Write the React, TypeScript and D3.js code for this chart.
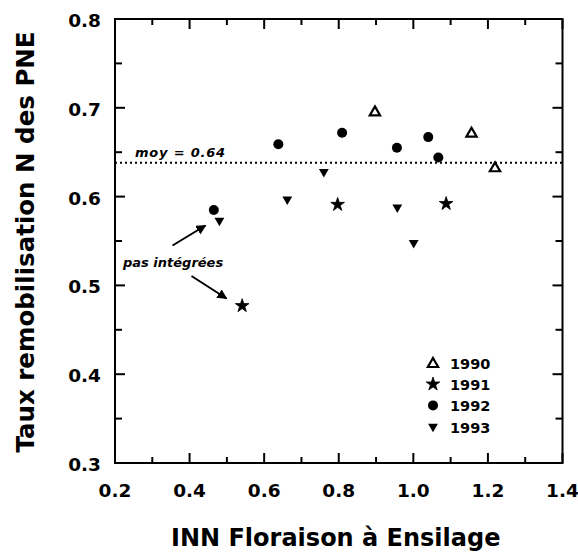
import React from "react";
import * as d3 from "d3";

// values (INN, taux de remobilisation)
const x1990 = [0.897, 1.156, 1.219];
const y1990 = [0.696, 0.672, 0.633];
const x1991 = [0.541, 0.797, 1.088];
const y1991 = [0.477, 0.591, 0.592];
const x1992 = [0.465, 0.638, 0.809, 0.956, 1.04, 1.067];
const y1992 = [0.585, 0.659, 0.672, 0.655, 0.667, 0.644];
const x1993 = [0.48, 0.662, 0.76, 0.957, 1.001];
const y1993 = [0.573, 0.597, 0.628, 0.588, 0.548];

const years = ["1990", "1991", "1992", "1993"];
const xTickValues = [0.2, 0.4, 0.6, 0.8, 1.0, 1.2, 1.4];
const yTickValues = [0.3, 0.4, 0.5, 0.6, 0.7, 0.8];
const meanValue = 0.638;
const meanLabel = "moy = 0.64";
const noteLabel = "pas intégrées";

const FONT = "'DejaVu Sans', Verdana, sans-serif";

const App: React.FC = () => {
  const width = 578;
  const height = 553;
  const margin = { top: 19, right: 15.5, bottom: 90, left: 115 };

  const x = d3
    .scaleLinear()
    .domain([0.2, 1.4])
    .range([margin.left, width - margin.right]);
  const y = d3
    .scaleLinear()
    .domain([0.3, 0.8])
    .range([height - margin.bottom, margin.top]);

  const x0 = x.range()[0];
  const x1 = x.range()[1];
  const y0 = y.range()[0];
  const y1 = y.range()[1];

  const xMinor = [0.3, 0.5, 0.7, 0.9, 1.1, 1.3];
  const yMinor = [0.35, 0.45, 0.55, 0.65, 0.75];

  const tri = d3.symbol(d3.symbolTriangle, 46)()!;
  const triDown = d3.symbol(d3.symbolTriangle, 42)()!;
  const star = d3.symbol(d3.symbolStar, 58)()!;

  const series = [
    { xs: x1990, ys: y1990, kind: "tri" },
    { xs: x1991, ys: y1991, kind: "star" },
    { xs: x1992, ys: y1992, kind: "circle" },
    { xs: x1993, ys: y1993, kind: "down" },
  ];

  const marker = (kind: string, cx: number, cy: number, key: string) => {
    if (kind === "circle") return <circle key={key} cx={cx} cy={cy} r={5} fill="#000" />;
    if (kind === "star")
      return (
        <path
          key={key}
          d={star}
          transform={`translate(${cx},${cy})`}
          fill="#000"
          stroke="#000"
          strokeWidth={0.8}
          strokeLinejoin="round"
        />
      );
    if (kind === "down")
      return (
        <path key={key} d={triDown} transform={`translate(${cx},${cy}) rotate(180)`} fill="#000" />
      );
    return (
      <path
        key={key}
        d={tri}
        transform={`translate(${cx},${cy + 1})`}
        fill="#fff"
        stroke="#000"
        strokeWidth={2.2}
      />
    );
  };

  const tick = "#000";

  return (
    <svg
      width={width}
      height={height}
      style={{ position: "absolute", left: 0, top: 0, background: "#fff" }}
    >
      <defs>
        <marker
          id="head"
          viewBox="0 0 10 10"
          refX={9}
          refY={5}
          markerWidth={5}
          markerHeight={5}
          orient="auto"
        >
          <path d="M0,0 L10,5 L0,10 z" fill="#000" />
        </marker>
      </defs>

      {/* frame */}
      <rect x={x0} y={y1} width={x1 - x0} height={y0 - y1} fill="none" stroke="#000" strokeWidth={2} />

      {/* ticks, inward on all four sides */}
      <g stroke={tick} strokeWidth={2}>
        {xTickValues.map((t) => (
          <g key={"xt" + t}>
            <line x1={x(t)} x2={x(t)} y1={y0} y2={y0 - 10} />
            <line x1={x(t)} x2={x(t)} y1={y1} y2={y1 + 10} />
          </g>
        ))}
        {xMinor.map((t) => (
          <g key={"xm" + t}>
            <line x1={x(t)} x2={x(t)} y1={y0} y2={y0 - 6} />
            <line x1={x(t)} x2={x(t)} y1={y1} y2={y1 + 6} />
          </g>
        ))}
        {yTickValues.map((t) => (
          <g key={"yt" + t}>
            <line x1={x0} x2={x0 + 10} y1={y(t)} y2={y(t)} />
            <line x1={x1} x2={x1 - 10} y1={y(t)} y2={y(t)} />
          </g>
        ))}
        {yMinor.map((t) => (
          <g key={"ym" + t}>
            <line x1={x0} x2={x0 + 7} y1={y(t)} y2={y(t)} />
            <line x1={x1} x2={x1 - 7} y1={y(t)} y2={y(t)} />
          </g>
        ))}
      </g>

      {/* tick labels */}
      {xTickValues.map((t) => (
        <text
          key={"xl" + t}
          x={x(t)}
          y={y0 + 34}
          textAnchor="middle"
          fontFamily={FONT}
          fontWeight="bold"
          fontSize={18.5}
        >
          {t.toFixed(1)}
        </text>
      ))}
      {yTickValues.map((t) => (
        <text
          key={"yl" + t}
          x={x0 - 14}
          y={y(t) + 8}
          textAnchor="end"
          fontFamily={FONT}
          fontWeight="bold"
          fontSize={18.5}
        >
          {t.toFixed(1)}
        </text>
      ))}

      {/* axis titles */}
      <text
        x={(x0 + x1) / 2 - 3}
        y={546}
        textAnchor="middle"
        fontFamily={FONT}
        fontWeight="bold"
        fontSize={24}
      >
        INN Floraison à Ensilage
      </text>
      <text
        transform={`translate(34,${(y0 + y1) / 2 + 1}) rotate(-90)`}
        textAnchor="middle"
        fontFamily={FONT}
        fontWeight="bold"
        fontSize={24.5}
      >
        Taux remobilisation N des PNE
      </text>

      {/* mean line */}
      <line
        x1={x0}
        x2={x1}
        y1={y(meanValue)}
        y2={y(meanValue)}
        stroke="#000"
        strokeWidth={2}
        strokeDasharray="2 3"
      />
      <text
        x={x0 + 20}
        y={y(meanValue) - 6}
        fontFamily={FONT}
        fontWeight="bold"
        fontStyle="italic"
        fontSize={13}
        letterSpacing={0.8}
      >
        {meanLabel}
      </text>

      {/* annotation */}
      <text
        x={x0 + 8}
        y={267}
        fontFamily={FONT}
        fontWeight="bold"
        fontStyle="italic"
        fontSize={13}
      >
        {noteLabel}
      </text>
      <line x1={172.5} y1={245.5} x2={205.5} y2={225.5} stroke="#000" strokeWidth={2} markerEnd="url(#head)" />
      <line x1={191.5} y1={276} x2={226.5} y2={298.5} stroke="#000" strokeWidth={2} markerEnd="url(#head)" />

      {/* points */}
      {series.map((s, si) =>
        s.xs.map((v, i) => marker(s.kind, x(v), y(s.ys[i]), `p${si}-${i}`))
      )}

      {/* legend */}
      {years.map((yr, i) => (
        <g key={yr} transform={`translate(433,${363 + i * 21.2})`}>
          {marker(series[i].kind, 0, 0, "lg" + yr)}
          <text x={17} y={6} fontFamily={FONT} fontWeight="bold" fontSize={14.5}>
            {yr}
          </text>
        </g>
      ))}
    </svg>
  );
};

export default App;
